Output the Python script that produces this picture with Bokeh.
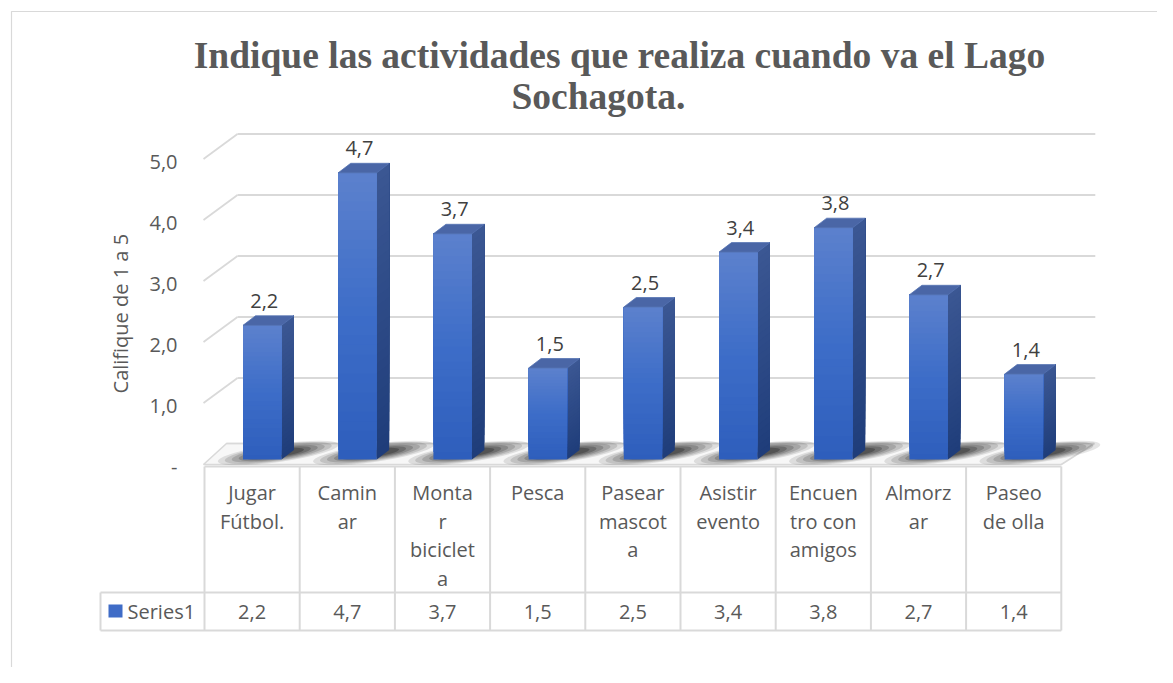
import math
from bokeh.plotting import figure
from bokeh.models import Range1d
from bokeh.embed import file_html
from bokeh.resources import INLINE
from bokeh.core.properties import value

# ---------------- data ----------------
title_lines = ["Indique las actividades que realiza cuando va el Lago", "Sochagota."]
categories = ["Jugar Fútbol.", "Caminar", "Montar bicicleta", "Pesca", "Pasear mascota",
              "Asistir evento", "Encuentro con amigos", "Almorzar", "Paseo de olla"]
table_labels = [["Jugar", "Fútbol."], ["Camin", "ar"], ["Monta", "r", "biciclet", "a"], ["Pesca"],
                ["Pasear", "mascot", "a"], ["Asistir", "evento"], ["Encuen", "tro con", "amigos"],
                ["Almorz", "ar"], ["Paseo", "de olla"]]
values = [2.2, 4.7, 3.7, 1.5, 2.5, 3.4, 3.8, 2.7, 1.4]
y_ticks = [0, 1, 2, 3, 4, 5]
y_tick_labels = ["-", "1,0", "2,0", "3,0", "4,0", "5,0"]
series_name = "Series1"
y_title = "Califique de 1  a  5"

# ---------------- geometry ----------------
W, H = 1157, 667
PXU = 95.2   # px per category
PYU = 61.0   # px per value unit
OX = 204     # page x of category 0 left edge
OY = 463.5   # page y of value 0 (front)
MARGIN = 0


def X(px_page):
    return (px_page - OX) / PXU


def Y(py_page):
    return (OY - py_page) / PYU


def dx(px):
    return px / PXU


def dy(px):
    return px / PYU


p = figure(width=W, height=H, output_backend="svg", toolbar_location=None,
           x_range=Range1d(X(MARGIN), X(MARGIN + W)),
           y_range=Range1d(Y(MARGIN + H), Y(MARGIN)),
           x_axis_location=None, y_axis_location=None, min_border=0)
p.grid.visible = False
p.outline_line_color = None
p.background_fill_color = "white"

GRID = "#D9D9D9"
TXT = "#595959"
FONT = value("Open Sans")

# outer chart border
p.quad(left=X(11), right=X(1300), top=Y(11), bottom=Y(800), fill_color=None,
       line_color="#D9D9D9", line_width=1.2)

# title
p.text(x=[X(619), X(598)], y=[Y(54.5), Y(95.5)], text=title_lines,
       text_font=value("Liberation Serif"),
       text_font_style="bold", text_font_size="37.5px", text_color=TXT,
       text_align="center", text_baseline="middle")

# gridlines (3D walls)
n = len(categories)
DX_W, DY_W = dx(34), dy(25)
gx0, gy0, gx1, gy1 = [], [], [], []
for t in y_ticks[1:]:
    gx0 += [X(203), X(203) + DX_W]
    gy0 += [t, t + DY_W]
    gx1 += [X(203) + DX_W, n + DX_W]
    gy1 += [t + DY_W, t + DY_W]
p.segment(x0=gx0, y0=gy0, x1=gx1, y1=gy1, line_color=GRID, line_width=1.8)

# floor
p.patch(x=[X(203), n, n + dx(33), X(226)], y=[Y(464), Y(464), Y(443), Y(443)],
        fill_color="#F7F7F7", line_color=GRID, line_width=1.6)
p.segment(x0=[X(226)], y0=[Y(443)], x1=[n + dx(33)], y1=[Y(443)], line_color=GRID, line_width=1.6)

# bar geometry
FL, FR = dx(38.5), dx(77)
BOT = dy(4.5)
SDX, SDY = dx(12.5), dy(9.5)

# soft shadows on the floor around each bar base
for w, h, a in [(122, 18, 0.10), (108, 16, 0.12), (94, 14, 0.14), (80, 12, 0.17),
                (66, 10, 0.2), (52, 8, 0.24)]:
    p.ellipse(x=[i + (FL + FR) / 2 + dx(16) for i in range(n)], y=[Y(452.5)] * n,
              width=w, height=h, width_units="screen", height_units="screen",
              angle=0.14, fill_color="black", fill_alpha=a, line_color=None)


def hex2rgb(h):
    h = h.lstrip("#")
    return tuple(int(h[k:k + 2], 16) for k in (0, 2, 4))


def mix(c1, c2, t):
    a, b = hex2rgb(c1), hex2rgb(c2)
    return "#%02x%02x%02x" % tuple(int(round(a[k] + (b[k] - a[k]) * t)) for k in range(3))


FRONT_BOT, FRONT_MID, FRONT_TOP = "#2E5EBC", "#3D6DC8", "#5C81CD"
SIDE_BOT, SIDE_TOP = "#1F3D7A", "#3B5793"
TOP_FACE = "#4A66A6"

# gradient via overlapping slices (each slice runs up to the bar top -> no seams)
NS = 30
ql, qr, qb, qt, qc = [], [], [], [], []
sxs, sys_, scs = [], [], []
for k in range(NS):
    t = (k + 0.5) / NS
    if t < 0.5:
        c = mix(FRONT_BOT, FRONT_MID, t / 0.5)
    else:
        c = mix(FRONT_MID, FRONT_TOP, (t - 0.5) / 0.5)
    sc = mix(SIDE_BOT, SIDE_TOP, t)
    for i, v in enumerate(values):
        l, r = i + FL, i + FR
        y0 = BOT + v * k / NS
        y1 = BOT + v
        ql.append(l); qr.append(r); qb.append(y0); qt.append(y1); qc.append(c)
        sxs.append([r, r + SDX, r + SDX, r])
        sys_.append([y0, y0 + SDY, y1 + SDY, y1])
        scs.append(sc)
p.patches(xs=sxs, ys=sys_, fill_color=scs, line_color=None)
p.quad(left=ql, right=qr, bottom=qb, top=qt, fill_color=qc, line_color=None)

txs, tys = [], []
for i, v in enumerate(values):
    l, r = i + FL, i + FR
    top = BOT + v
    txs.append([l, r, r + SDX, l + SDX])
    tys.append([top, top, top + SDY, top + SDY])
p.patches(xs=txs, ys=tys, fill_color=TOP_FACE, line_color="#5673B2", line_width=0.8)


def fmt(v):
    return ("%.1f" % v).replace(".", ",")


# data labels
p.text(x=[i + (FL + FR) / 2 + dx(2) for i in range(n)],
       y=[BOT + v + SDY + dy(15) for v in values],
       text=[fmt(v) for v in values], text_font=FONT, text_font_size="20px",
       text_color="#404040", text_align="center", text_baseline="middle")

# y tick labels
p.text(x=[X(177)] * len(y_ticks), y=[t - dy(3) for t in y_ticks], text=y_tick_labels,
       text_font=FONT, text_font_size="20px", text_color=TXT,
       text_align="right", text_baseline="middle")

# y title
p.text(x=[X(120)], y=[Y(308)], text=[y_title], angle=math.pi / 2, text_font=FONT,
       text_font_size="20px", text_color=TXT, text_align="center", text_baseline="middle")

# data table
vx0 = [float(i) for i in range(n + 1)] + [X(100)]
vy0 = [Y(466)] * (n + 1) + [Y(592)]
vy1 = [Y(630)] * (n + 1) + [Y(630)]
p.segment(x0=vx0, y0=vy0, x1=vx0, y1=vy1, line_color=GRID, line_width=2)
p.segment(x0=[0, X(100), X(100)], y0=[Y(466), Y(592), Y(630)],
          x1=[n, n, n], y1=[Y(466), Y(592), Y(630)], line_color=GRID, line_width=2)

hx, hy, ht = [], [], []
for i, lines in enumerate(table_labels):
    for k, s in enumerate(lines):
        hx.append(i + 0.5)
        hy.append(Y(492 + 28.5 * k))
        ht.append(s)
p.text(x=hx, y=hy, text=ht, text_font=FONT, text_font_size="20px", text_color=TXT,
       text_align="center", text_baseline="middle")
p.text(x=[i + 0.5 for i in range(n)], y=[Y(611)] * n, text=[fmt(v) for v in values],
       text_font=FONT, text_font_size="20px", text_color=TXT,
       text_align="center", text_baseline="middle")

# legend key in table
p.quad(left=[X(108)], right=[X(122)], top=[Y(604)], bottom=[Y(617)],
       fill_color="#3F6CC7", line_color=None)
p.text(x=[X(127)], y=[Y(611)], text=[series_name], text_font=FONT, text_font_size="20px",
       text_color=TXT, text_align="left", text_baseline="middle")

open("out.html", "w").write(file_html(p, INLINE))
